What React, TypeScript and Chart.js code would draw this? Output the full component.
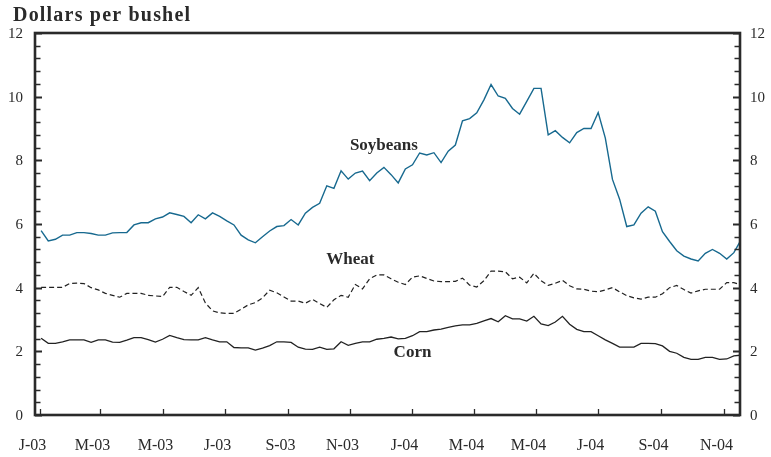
import React, { useEffect, useRef } from 'react';
import { Chart, registerables } from 'chart.js';

Chart.register(...registerables);

// ---- data ----
const AXIS_START = '2003-01-01';
const SERIES_START = '2003-01-02'; // weekly observations

const soybeans = [
  5.79, 5.47, 5.52, 5.65, 5.65, 5.73, 5.73, 5.70, 5.65, 5.65,
  5.72, 5.73, 5.73, 5.97, 6.04, 6.04, 6.16, 6.22, 6.35, 6.30,
  6.24, 6.04, 6.29, 6.16, 6.35, 6.24, 6.10, 5.97, 5.65, 5.50,
  5.41, 5.60, 5.78, 5.92, 5.95, 6.14, 5.97, 6.34, 6.52, 6.65,
  7.20, 7.12, 7.67, 7.41, 7.60, 7.66, 7.36, 7.60, 7.78, 7.55,
  7.29, 7.73, 7.86, 8.23, 8.17, 8.24, 7.93, 8.29, 8.48, 9.24,
  9.31, 9.49, 9.90, 10.38, 10.02, 9.95, 9.63, 9.45, 9.85, 10.26,
  10.26, 8.80, 8.93, 8.72, 8.55, 8.87, 9.00, 9.00, 9.50, 8.70,
  7.40, 6.78, 5.92, 5.97, 6.34, 6.54, 6.40, 5.76, 5.45, 5.16,
  4.99, 4.90, 4.84, 5.08, 5.20, 5.08, 4.90, 5.10, 5.50,
];

const wheat = [
  4.01, 4.01, 4.01, 4.01, 4.13, 4.14, 4.13, 4.00, 3.93, 3.82,
  3.76, 3.70, 3.82, 3.82, 3.82, 3.76, 3.74, 3.72, 4.01, 4.01,
  3.88, 3.76, 4.00, 3.52, 3.27, 3.21, 3.19, 3.19, 3.32, 3.46,
  3.53, 3.68, 3.92, 3.84, 3.71, 3.58, 3.58, 3.51, 3.63, 3.50,
  3.38, 3.62, 3.76, 3.70, 4.10, 3.96, 4.28, 4.40, 4.40, 4.28,
  4.17, 4.10, 4.33, 4.37, 4.29, 4.21, 4.19, 4.19, 4.20, 4.30,
  4.08, 4.02, 4.22, 4.52, 4.52, 4.50, 4.28, 4.33, 4.15, 4.45,
  4.22, 4.07, 4.14, 4.23, 4.06, 3.96, 3.95, 3.89, 3.87, 3.93,
  4.00, 3.87, 3.75, 3.68, 3.64, 3.70, 3.70, 3.81, 4.00, 4.07,
  3.94, 3.83, 3.90, 3.95, 3.95, 3.95, 4.16, 4.16, 4.08,
];

const corn = [
  2.41, 2.25, 2.25, 2.30, 2.36, 2.36, 2.36, 2.28, 2.36, 2.36,
  2.29, 2.28, 2.35, 2.43, 2.43, 2.37, 2.29, 2.38, 2.50, 2.43,
  2.37, 2.36, 2.36, 2.43, 2.36, 2.30, 2.30, 2.12, 2.11, 2.11,
  2.04, 2.10, 2.18, 2.30, 2.30, 2.28, 2.13, 2.07, 2.06, 2.13,
  2.06, 2.08, 2.30, 2.19, 2.25, 2.30, 2.30, 2.38, 2.41, 2.45,
  2.39, 2.41, 2.49, 2.62, 2.62, 2.67, 2.70, 2.75, 2.80, 2.83,
  2.83, 2.88, 2.96, 3.03, 2.93, 3.12, 3.02, 3.02, 2.95, 3.10,
  2.86, 2.81, 2.92, 3.10, 2.85, 2.69, 2.62, 2.62, 2.49, 2.36,
  2.25, 2.13, 2.13, 2.13, 2.25, 2.25, 2.24, 2.17, 2.00, 1.94,
  1.81, 1.75, 1.75, 1.81, 1.81, 1.75, 1.76, 1.86, 1.88,
];

const xTickLabels = ['J-03', 'M-03', 'M-03', 'J-03', 'S-03', 'N-03', 'J-04', 'M-04', 'M-04', 'J-04', 'S-04', 'N-04'];
const xTickDates = [
  '2003-01-01', '2003-03-01', '2003-05-01', '2003-07-01', '2003-09-01', '2003-11-01',
  '2004-01-01', '2004-03-01', '2004-05-01', '2004-07-01', '2004-09-01', '2004-11-01',
];
const yMajorTicks = [0, 2, 4, 6, 8, 10, 12];
const yMinorPerMajor = 5;

const TITLE = 'Dollars per bushel';
const seriesLabels = [
  { text: 'Soybeans', date: '2003-12-04', value: 8.33 },
  { text: 'Wheat', date: '2003-11-01', value: 4.74 },
  { text: 'Corn', date: '2004-01-01', value: 1.82 },
];

// ---- helpers ----
const dayOf = (d: string) => Math.round((Date.parse(d) - Date.parse(AXIS_START)) / 86400000);
const toPoints = (vals: number[]) => vals.map((y, i) => ({ x: dayOf(SERIES_START) + 7 * i, y }));

const FONT = '"Liberation Serif", "Times New Roman", serif';
const INK = '#2a2a2a';

const framePlugin = {
  id: 'frameAndLabels',
  afterDatasetsDraw(chart: any) {
    const { ctx, chartArea: a, scales } = chart;
    const xs = scales.x;
    const ys = scales.y;
    ctx.save();
    ctx.strokeStyle = INK;
    ctx.fillStyle = INK;

    // y ticks (minor + major) on both sides, pointing inward
    for (let m = 0; m < yMajorTicks.length; m++) {
      const v0 = yMajorTicks[m];
      const v1 = yMajorTicks[m + 1];
      const vals = [v0];
      if (v1 !== undefined) {
        for (let k = 1; k < yMinorPerMajor; k++) vals.push(v0 + ((v1 - v0) * k) / yMinorPerMajor);
      }
      vals.forEach((v, idx) => {
        const py = Math.round(ys.getPixelForValue(v)) + 0.5;
        const major = idx === 0;
        ctx.lineWidth = major ? 2 : 1.3;
        const len = major ? 7 : 5.5;
        ctx.beginPath();
        ctx.moveTo(a.left, py);
        ctx.lineTo(a.left + len, py);
        ctx.moveTo(a.right, py);
        ctx.lineTo(a.right - len, py);
        ctx.stroke();
      });
    }

    // y labels
    ctx.font = `15px ${FONT}`;
    ctx.textBaseline = 'middle';
    yMajorTicks.forEach((v) => {
      const py = ys.getPixelForValue(v) + 1;
      ctx.textAlign = 'right';
      ctx.fillText(String(v), a.left - 12, py);
      ctx.textAlign = 'left';
      ctx.fillText(String(v), a.right + 10, py);
    });

    // x ticks and labels
    ctx.lineWidth = 1.3;
    ctx.font = `16px ${FONT}`;
    ctx.textAlign = 'center';
    ctx.textBaseline = 'alphabetic';
    xTickDates.forEach((d, i) => {
      const px = Math.round(xs.getPixelForValue(dayOf(d))) + 0.5;
      ctx.beginPath();
      ctx.moveTo(px, a.bottom);
      ctx.lineTo(px, a.bottom - 6);
      ctx.stroke();
      ctx.fillText(xTickLabels[i], px - 8, a.bottom + 35);
    });

    // frame
    ctx.lineWidth = 2.6;
    ctx.strokeRect(a.left, a.top, a.right - a.left, a.bottom - a.top);

    // series labels
    ctx.font = `bold 17px ${FONT}`;
    ctx.textAlign = 'center';
    ctx.textBaseline = 'alphabetic';
    seriesLabels.forEach((l) => {
      ctx.fillText(l.text, xs.getPixelForValue(dayOf(l.date)), ys.getPixelForValue(l.value));
    });

    // title
    ctx.font = `bold 20px ${FONT}`;
    ctx.textAlign = 'left';
    try { (ctx as any).letterSpacing = '1.2px'; } catch (e) { /* ignore */ }
    ctx.fillText(TITLE, 13, 21);

    ctx.restore();
  },
};

export default function App() {
  const ref = useRef<HTMLCanvasElement | null>(null);

  useEffect(() => {
    if (!ref.current) return;
    const chart = new Chart(ref.current, {
      type: 'line',
      data: {
        datasets: [
          {
            label: 'Soybeans',
            data: toPoints(soybeans),
            borderColor: '#17698f',
            borderWidth: 1.4,
            pointRadius: 0,
            tension: 0,
            fill: false,
          },
          {
            label: 'Wheat',
            data: toPoints(wheat),
            borderColor: '#222222',
            borderWidth: 1.2,
            borderDash: [5, 3],
            pointRadius: 0,
            tension: 0,
            fill: false,
          },
          {
            label: 'Corn',
            data: toPoints(corn),
            borderColor: '#222222',
            borderWidth: 1.3,
            pointRadius: 0,
            tension: 0,
            fill: false,
          },
        ],
      },
      options: {
        responsive: false,
        animation: false,
        devicePixelRatio: 1,
        layout: { padding: { left: 35, right: 31, top: 33, bottom: 42 } },
        plugins: { legend: { display: false }, tooltip: { enabled: false }, title: { display: false } },
        scales: {
          x: { type: 'linear', display: false, min: -5, max: 686 },
          y: { type: 'linear', display: false, min: 0, max: 12 },
        },
      },
      plugins: [framePlugin],
    });
    return () => chart.destroy();
  }, []);

  return (
    <div style={{ position: 'fixed', left: 0, top: 0, width: 771, height: 457, background: '#fff' }}>
      <canvas ref={ref} width={771} height={457} style={{ display: 'block' }} />
    </div>
  );
}
